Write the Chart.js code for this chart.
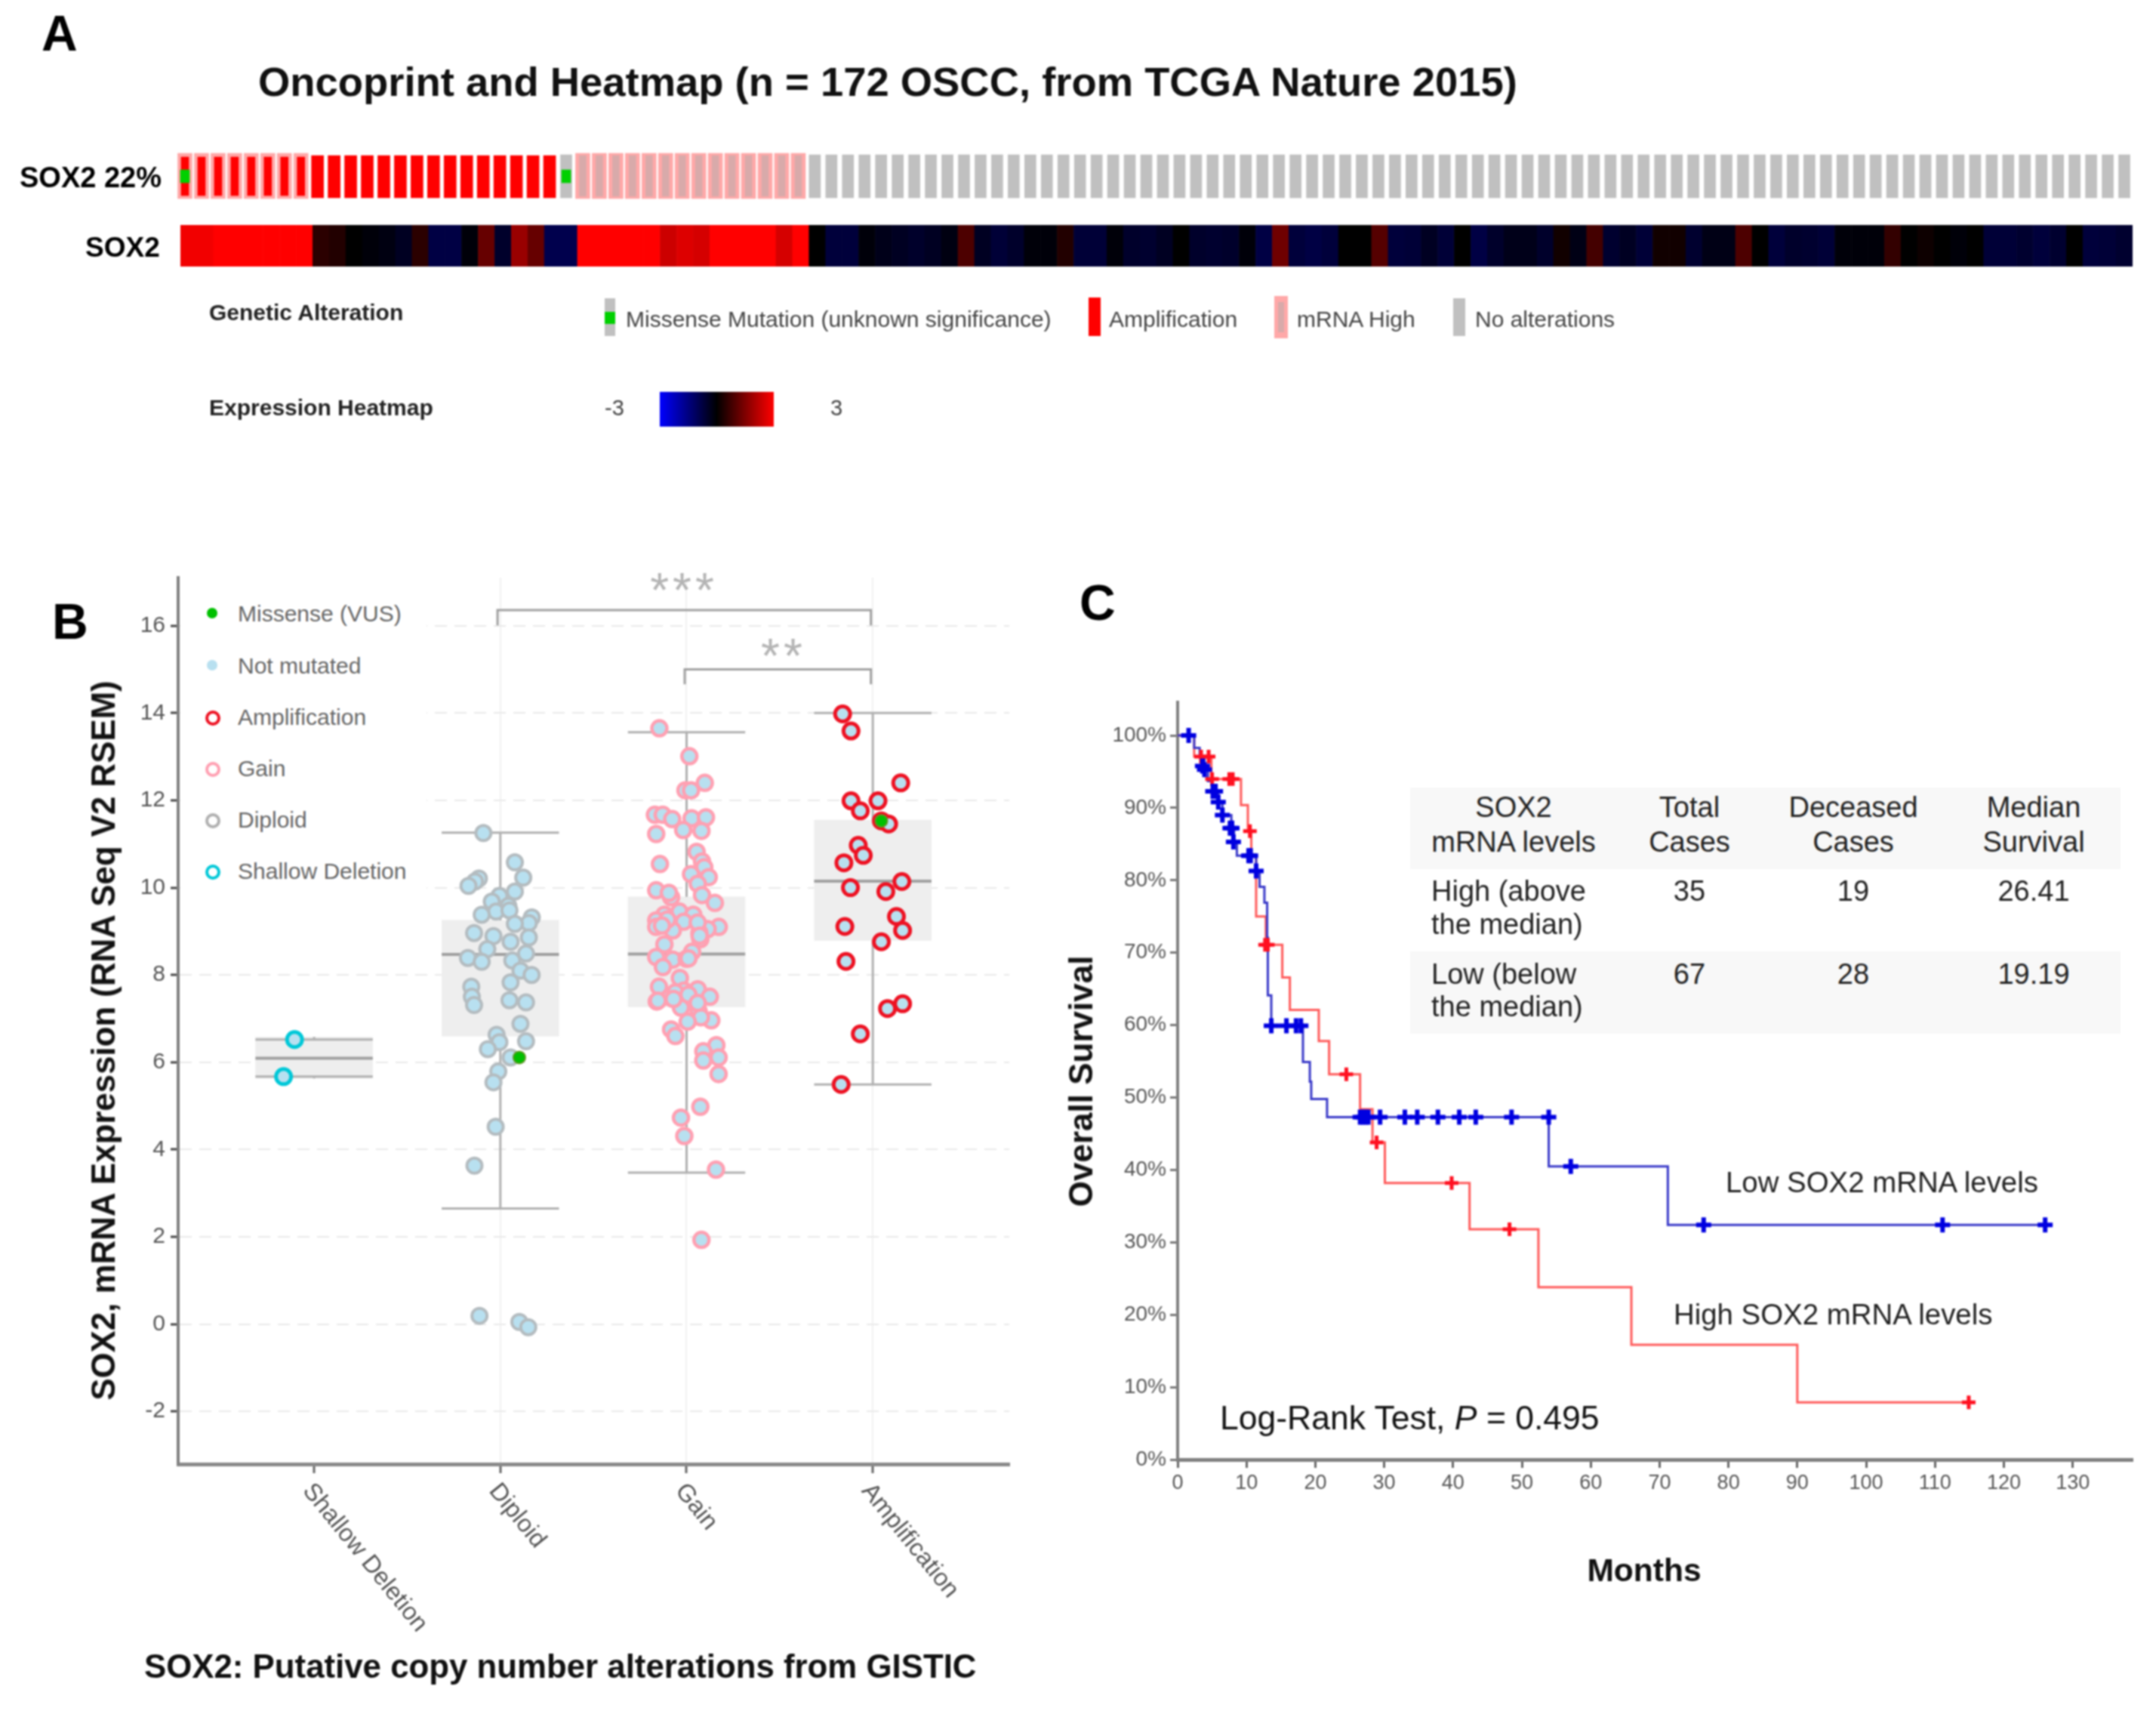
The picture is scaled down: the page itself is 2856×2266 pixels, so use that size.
<!DOCTYPE html>
<html>
<head>
<meta charset="utf-8">
<title>SOX2 oncoprint, expression and survival</title>
<script src="https://cdn.jsdelivr.net/npm/chart.js@4"></script>
<style>
  html, body { margin: 0; background: #fff; }
  #page { position: relative; width: 2856px; height: 2266px; overflow: hidden; font-family: "Liberation Sans", Arial, sans-serif; filter: blur(0.8px); }
  canvas { position: absolute; }
  .txt { position: absolute; white-space: pre; line-height: 1; }
  .box { position: absolute; }
</style>
</head>
<body>
<div id="page">
  <canvas id="onco" width="2591" height="66" style="left:234px;top:200px"></canvas>
  <canvas id="heat" width="2586" height="55" style="left:239px;top:298px"></canvas>
  <canvas id="expr" width="1400" height="1450" style="left:0;top:740px"></canvas>
  <canvas id="surv" width="1456" height="1130" style="left:1400px;top:900px"></canvas>
</div>
<script>
// ---- panel A: oncoprint, 118 columns
const amplifiedCases = [0,1,2,3,4,5,6,7,8,9,10,11,12,13,14,15,16,17,18,19,20,21,22];
const mrnaHighCases = [0,1,2,3,4,5,6,7,24,25,26,27,28,29,30,31,32,33,34,35,36,37];
const missenseCases = [0,23];
const heatmapValues = [
  2.85,2.85,3,3,3,3,3,3,0.5,0.4,0,-0.1,-0.2,-0.4,0.5,-0.8,-0.8,-0.1,1.2,-0.5,1.8,1.2,-0.9,-0.9,
  3,3,3,3,3,2.4,2.6,2.5,3,3,3,3,2.5,3,
  0,-0.7,-0.7,-0.1,-0.3,-0.4,-0.5,-0.4,-0.2,0.9,-0.4,-0.65,-0.5,-0.1,-0.1,0.4,-0.65,-0.65,-0.1,-0.5,
  -0.55,-0.4,0,-0.5,-0.55,-0.5,-0.1,-0.8,1.3,-0.7,-0.8,-0.7,0,0,1,-0.7,-0.65,-0.4,-0.65,0,
  -0.8,-0.5,-0.3,-0.3,-0.5,0.2,-0.25,0.8,-0.55,-0.4,-0.65,0.2,0.2,-0.55,-0.25,-0.25,0.9,0,-0.7,-0.5,
  -0.55,-0.65,-0.1,-0.1,-0.1,0.6,0,0.15,0,-0.1,0,-0.65,-0.65,-0.55,-0.7,-0.55,0,-0.7,-0.65,-0.55
];

// ---- panel B: expression by copy number
const copyNumberTypes = ["Shallow Deletion","Diploid","Gain","Amplification"];
const boxQ1 = [5.63,6.6,7.27,8.79];
const boxQ3 = [6.58,9.25,9.79,11.55];
const boxMedian = [6.09,8.47,8.48,10.15];
const whiskerLow = [5.67,2.65,3.47,5.49];
const whiskerHigh = [6.52,11.26,13.56,14.0];
const shallowX = [-0.105,-0.164];
const shallowY = [6.52,5.67];
const diploidX = [0.909,1.078,1.123,0.885,0.864,0.829,1.078,0.995,0.954,1.043,0.977,0.9,1.049,1.169,1.153,1.078,0.859,0.963,1.153,1.055,0.93,1.138,0.826,1.064,0.9,1.108,1.168,1.055,0.844,0.847,0.859,1.049,1.138,1.108,0.98,1.138,0.995,0.933,1.055,0.989,0.963,0.975,0.861,0.888,1.102,1.15];
const diploidY = [11.25,10.58,10.23,10.21,10.14,10.04,9.91,9.81,9.68,9.58,9.45,9.38,9.48,9.32,9.19,9.17,8.96,8.89,8.86,8.76,8.59,8.49,8.39,8.33,8.3,8.1,8.0,7.83,7.73,7.5,7.31,7.42,7.37,6.88,6.63,6.48,6.46,6.3,6.11,5.79,5.54,4.52,3.63,0.19,0.05,-0.07];
const gainX = [1.854,2.015,2.098,1.994,2.024,1.83,1.872,1.923,2.027,2.104,1.837,1.982,2.08,1.857,2.054,2.083,2.095,2.024,2.119,2.06,1.837,2.083,1.917,2.152,1.962,1.881,2.036,1.837,1.985,2.173,2.113,1.837,1.926,2.069,2.074,1.881,2.03,1.837,1.926,2.0,1.873,1.964,1.852,1.985,2.06,2.125,1.911,1.84,1.97,1.846,1.97,2.065,2.133,2.077,2.006,1.917,1.94,2.16,2.09,2.172,2.09,2.172,2.074,1.97,1.988,2.158,2.08,1.905,1.897,1.868,2.06,2.01,1.94,2.01,2.06,2.07,1.93];
const gainY = [13.65,13.01,12.4,12.23,12.23,11.67,11.67,11.57,11.59,11.61,11.23,11.32,11.3,10.54,10.82,10.6,10.47,10.31,10.24,10.09,9.94,9.83,9.78,9.65,9.45,9.38,9.38,9.25,9.22,9.1,9.05,9.1,9.02,8.96,8.82,8.7,8.53,8.41,8.35,8.37,8.18,7.93,7.73,7.64,7.67,7.5,7.49,7.39,7.27,7.41,7.25,7.16,6.96,7.03,6.93,6.75,6.6,6.39,6.25,6.11,6.04,5.73,4.98,4.73,4.31,3.54,1.93,9.88,9.27,9.13,9.2,8.38,7.6,7.55,7.36,8.9,7.45];
const amplifiedX = [2.838,2.883,3.15,2.883,3.028,2.933,3.046,3.085,2.922,2.949,2.845,3.156,2.88,3.07,3.127,2.85,3.16,3.046,2.856,3.16,3.079,2.933,2.83];
const amplifiedY = [13.98,13.59,12.4,11.99,11.99,11.76,11.53,11.46,10.97,10.74,10.57,10.14,10.0,9.91,9.34,9.11,9.02,8.76,8.31,7.34,7.23,6.65,5.49];
const missenseX = [1.102,3.046];
const missenseY = [6.11,11.53];
const bracketOuter = [{ x: 0.985, y: 16.01 }, { x: 0.985, y: 16.36 }, { x: 2.99, y: 16.36 }, { x: 2.99, y: 16.01 }];
const bracketInner = [{ x: 1.99, y: 14.66 }, { x: 1.99, y: 15.0 }, { x: 2.99, y: 15.0 }, { x: 2.99, y: 14.66 }];
const exprTicks = [-2,0,2,4,6,8,10,12,14,16];

// ---- panel C: Kaplan-Meier curves
const lowMonths = [0,1.6,2.4,3.2,3.9,4.4,5.1,5.9,6.5,7.8,8.2,8.6,11.4,11.9,12.6,13,13.1,13.6,18.2,19.2,19.4,21.7,53.9,71.2,126];
const lowSurvival = [100,100,98.3,97,95.3,93.7,92.3,90.8,89,87.2,85.3,83.4,81.3,79.1,76.9,72.1,64.1,59.9,54.9,52.2,49.8,47.3,40.5,32.4,32.4];
const lowCensorMonths = [1.6,3.6,3.9,5.1,5.5,5.9,6.5,7.6,7.9,8.1,10.3,10.6,11.4,13.6,15.8,17.2,17.9,26.5,26.9,27.3,27.7,29.4,33,34.8,37.8,40.9,43.3,48.5,53.9,57.1,76.4,111.1,126];
const lowCensorSurvival = [100,95.8,95.3,92.3,92.3,90.8,89,87.2,87.2,85.3,83.4,83.4,81.3,59.9,59.9,59.9,59.9,47.3,47.3,47.3,47.3,47.3,47.3,47.3,47.3,47.3,47.3,47.3,47.3,40.5,32.4,32.4,32.4];
const highMonths = [0,2.4,4.9,9.2,10.2,10.7,11.4,12.8,15.2,16.3,20.5,22,26.5,28.3,30.1,42.4,52.4,65.9,90,114.9];
const highSurvival = [100,97.1,94,90.4,86.8,83.5,75,71.1,66.6,62.1,57.8,53.2,48.4,43.8,38.2,31.8,23.8,15.85,7.9,7.9];
const highCensorMonths = [3.4,4.5,5,7.5,8,10.5,12.7,13.1,24.5,28.9,39.8,48.2,114.9];
const highCensorSurvival = [97.1,97.1,94,94,94,86.8,71.1,71.1,53.2,43.8,38.2,31.8,7.9];

// ---- table in panel C
const tableHeader = [["SOX2","mRNA levels"],["Total","Cases"],["Deceased","Cases"],["Median","Survival"]];
const tableRowNames = [["High (above","the median)"],["Low (below","the median)"]];
const tableTotals = ["35","67"];
const tableDeceased = ["19","28"];
const tableMedians = ["26.41","19.19"];

// ---- legends
const alterationLegend = ["Missense Mutation (unknown significance)","Amplification","mRNA High","No alterations"];
const mutationLegend = ["Missense (VUS)","Not mutated","Amplification","Gain","Diploid","Shallow Deletion"];

const page = document.getElementById("page");

Chart.defaults.font.family = '"Liberation Sans", Arial, sans-serif';
Chart.defaults.animation = false;
Chart.defaults.responsive = false;
Chart.defaults.devicePixelRatio = 1;
Chart.defaults.plugins.legend.display = false;
Chart.defaults.plugins.tooltip.enabled = false;

function txt(text, x, y, size, opts) {
  opts = opts || {};
  const el = document.createElement("div");
  el.className = "txt";
  el.textContent = text;
  el.style.fontSize = size + "px";
  el.style.left = x + "px";
  el.style.top = y + "px";
  el.style.color = opts.color || "#222";
  if (opts.bold) el.style.fontWeight = "bold";
  if (opts.spacing) el.style.letterSpacing = opts.spacing + "px";
  let t = "translateY(-50%)";
  if (opts.center) t = "translate(-50%,-50%)";
  if (opts.rotate) t = "translate(-50%,-50%) rotate(" + opts.rotate + "deg)";
  el.style.transform = t;
  page.appendChild(el);
  return el;
}

function box(x, y, w, h, css) {
  const el = document.createElement("div");
  el.className = "box";
  el.style.cssText = "left:" + x + "px;top:" + y + "px;width:" + w + "px;height:" + h + "px;" + css;
  page.appendChild(el);
  return el;
}

// ---------- panel A
const caseLabels = heatmapValues.map((_, i) => i);
const track = (list, lo, hi) => caseLabels.map(i => list.includes(i) ? [lo, hi] : null);
const mrnaOnly = mrnaHighCases.filter(i => !amplifiedCases.includes(i));
const ampOnly = amplifiedCases.filter(i => !mrnaHighCases.includes(i));
const ampAndMrna = amplifiedCases.filter(i => mrnaHighCases.includes(i));
const unaltered = caseLabels.filter(i => !amplifiedCases.includes(i) && !mrnaHighCases.includes(i));

new Chart(document.getElementById("onco"), {
  type: "bar",
  data: {
    labels: caseLabels,
    datasets: [
      { data: track(missenseCases, 25, 42), backgroundColor: "#00d000", barThickness: 12, order: 1 },
      { data: track(ampAndMrna, 8, 59), backgroundColor: "#ff0000", barThickness: 10, order: 2 },
      { data: track(ampOnly, 6, 62), backgroundColor: "#ff0000", barThickness: 16, order: 3 },
      { data: track(mrnaOnly, 6, 60), backgroundColor: "#d8aaaa", barThickness: 9, order: 4 },
      { data: track(mrnaHighCases, 3, 63), backgroundColor: "#ffa8a8", barThickness: 19, order: 5 },
      { data: track(unaltered, 5, 62), backgroundColor: "#c0c0c0", barThickness: 15, order: 6 }
    ]
  },
  options: {
    datasets: { bar: { grouped: false } },
    layout: { padding: 0 },
    scales: {
      x: { display: false },
      y: { display: false, min: 0, max: 66, reverse: true }
    }
  }
});

function heatColor(v) {
  const c = Math.round(Math.min(Math.abs(v) / 3, 1) * 255);
  return v >= 0 ? "rgb(" + c + ",0,0)" : "rgb(0,0," + c + ")";
}

new Chart(document.getElementById("heat"), {
  type: "bar",
  data: {
    labels: caseLabels,
    datasets: [{
      data: heatmapValues.map(() => 1),
      backgroundColor: heatmapValues.map(heatColor),
      barPercentage: 1,
      categoryPercentage: 1
    }]
  },
  options: {
    layout: { padding: 0 },
    scales: { x: { display: false }, y: { display: false, min: 0, max: 1 } }
  }
});

txt("A", 55, 44, 66, { bold: true, color: "#000" });
txt("Oncoprint and Heatmap (n = 172 OSCC, from TCGA Nature 2015)", 342, 109, 54.4, { bold: true, color: "#111" });
txt("SOX2 22%", 26, 235, 38, { bold: true, color: "#000" });
txt("SOX2", 113, 327, 37, { bold: true, color: "#000" });
txt("Genetic Alteration", 277, 414, 30, { bold: true });
txt("Expression Heatmap", 277, 540, 30, { bold: true });

box(801, 395, 14, 50, "background:#c0c0c0");
box(801, 413, 14, 16, "background:#00d000");
txt(alterationLegend[0], 829, 423, 30, { color: "#444" });
box(1442, 394, 16, 51, "background:#ff0000");
txt(alterationLegend[1], 1469, 423, 30, { color: "#444" });
box(1688, 392, 18, 56, "background:#ffa8a8");
box(1693, 400, 8, 40, "background:#d8aaaa");
txt(alterationLegend[2], 1718, 423, 30, { color: "#444" });
box(1925, 395, 16, 50, "background:#c0c0c0");
txt(alterationLegend[3], 1954, 423, 30, { color: "#444" });

txt("-3", 801, 540, 29, { color: "#444" });
box(874, 519, 151, 46, "background:linear-gradient(90deg,#0000ff,#000000 50%,#ff0000)");
txt("3", 1100, 540, 29, { color: "#444" });

// ---------- panel B
const CAP = 0.315; // half width of a box in category units
const gap = { x: null, y: null };
const whiskerPath = copyNumberTypes.flatMap((_, i) => [
  { x: i - CAP, y: whiskerLow[i] }, { x: i + CAP, y: whiskerLow[i] }, { x: i, y: whiskerLow[i] }, { x: i, y: boxQ1[i] }, gap,
  { x: i, y: boxQ3[i] }, { x: i, y: whiskerHigh[i] }, { x: i - CAP, y: whiskerHigh[i] }, { x: i + CAP, y: whiskerHigh[i] }, gap
]);
const medianPath = copyNumberTypes.flatMap((_, i) => [{ x: i - CAP, y: boxMedian[i] }, { x: i + CAP, y: boxMedian[i] }, gap]);
const zipPts = (xs, ys) => xs.map((x, i) => ({ x, y: ys[i] }));

const pts = (xs, ys, border, order, bw) => ({
  type: "scatter", data: zipPts(xs, ys), order,
  backgroundColor: "#b8e0f0", borderColor: border,
  pointRadius: 10, borderWidth: bw
});

const rotatedTicks = {
  id: "rotatedTicks",
  afterDraw(chart) {
    const c = chart.ctx, sx = chart.scales.x;
    c.save();
    c.font = "32.5px " + Chart.defaults.font.family;
    c.fillStyle = "#555";
    c.textBaseline = "middle";
    copyNumberTypes.forEach((name, i) => {
      c.save();
      c.translate(sx.getPixelForValue(i) - 9, chart.chartArea.bottom + 30);
      c.rotate(51 * Math.PI / 180);
      c.fillText(name, 0, 0);
      c.restore();
    });
    c.restore();
  }
};

new Chart(document.getElementById("expr"), {
  type: "bar",
  data: {
    datasets: [
      { data: copyNumberTypes.map((_, i) => ({ x: i, y: [boxQ1[i], boxQ3[i]] })), backgroundColor: "#eeeeee", barThickness: 155, grouped: false, order: 10 },
      { type: "scatter", showLine: true, data: whiskerPath, borderColor: "#b0b0b0", borderWidth: 3, pointRadius: 0, order: 9 },
      { type: "scatter", showLine: true, data: medianPath, borderColor: "#a0a0a0", borderWidth: 4, pointRadius: 0, order: 8 },
      { type: "scatter", showLine: true, data: bracketOuter, borderColor: "#a0a0a0", borderWidth: 3, pointRadius: 0, order: 7 },
      { type: "scatter", showLine: true, data: bracketInner, borderColor: "#a0a0a0", borderWidth: 3, pointRadius: 0, order: 7 },
      pts(shallowX, shallowY, "#00c8d8", 6, 5),
      pts(diploidX, diploidY, "#b4bcc0", 5, 4),
      pts(gainX, gainY, "#ffa0b2", 4, 4.5),
      pts(amplifiedX, amplifiedY, "#ee1122", 3, 5),
      { type: "scatter", data: zipPts(missenseX, missenseY), backgroundColor: "#00c000", borderColor: "#5a9a20", pointRadius: 8, borderWidth: 2, order: 2 }
    ]
  },
  plugins: [rotatedTicks],
  options: {
    layout: { padding: { top: 21, right: 63, left: 0, bottom: 0 } },
    scales: {
      x: {
        type: "linear", offset: false, min: -0.73, max: 3.733,
        grid: { offset: false, color: c => c.tick && c.tick.value === 0 ? "rgba(0,0,0,0)" : "#f1f1f1", lineWidth: 2, tickColor: "#666", tickWidth: 3, tickLength: 12 },
        border: { color: "#8a8a8a", width: 5 },
        ticks: { display: false, stepSize: 1, includeBounds: false },
        afterFit: s => { s.height = 251; }
      },
      y: {
        type: "linear", beginAtZero: false, min: -3.207, max: 17.103,
        grid: { color: "#e9e9e9", lineWidth: 2, tickColor: "#444", tickWidth: 3, tickLength: 10 },
        border: { color: "#808080", width: 4, dash: [16, 10] },
        ticks: {
          stepSize: 2, includeBounds: false, padding: 7, color: "#555", font: { size: 30 },
          callback: v => exprTicks.includes(v) ? String(v) : ""
        },
        afterFit: s => { s.width = 236; }
      }
    }
  }
});

// white legend sits on top of the grid, as in the original
box(239, 790, 326, 450, "background:#fff");
const legendY = [813, 882, 950, 1018, 1086, 1154];
const legendRing = [null, null, "#ee1122", "#ffa0b2", "#b0b0b0", "#00c8d8"];
const legendFill = ["#00c000", "#b8e0f0"];
mutationLegend.forEach((name, i) => {
  if (legendRing[i]) box(272, legendY[i] - 9, 12, 12, "box-sizing:content-box;border:4px solid " + legendRing[i] + ";border-radius:50%");
  else box(274, legendY[i] - 8, 14, 14, "background:" + legendFill[i] + ";border-radius:50%");
  txt(name, 315, legendY[i], 30, { color: "#666" });
});

txt("***", 906, 782, 64, { center: true, color: "#b4b4b4", spacing: 5 });
txt("**", 1038, 869, 64, { center: true, color: "#b4b4b4", spacing: 5 });
txt("B", 69, 823, 66, { bold: true, color: "#000" });
txt("SOX2, mRNA Expression (RNA Seq V2 RSEM)", 137, 1378, 43.8, { bold: true, rotate: -90, color: "#111" });
txt("SOX2: Putative copy number alterations from GISTIC", 191, 2207, 43.8, { bold: true, color: "#111" });

// ---------- panel C
new Chart(document.getElementById("surv"), {
  type: "scatter",
  data: {
    datasets: [
      { data: zipPts(lowCensorMonths, lowCensorSurvival), pointStyle: "cross", pointRadius: 10, borderWidth: 6, borderColor: "#0000e0", order: 1 },
      { data: zipPts(highCensorMonths, highCensorSurvival), pointStyle: "cross", pointRadius: 9, borderWidth: 5, borderColor: "#ff1020", order: 2 },
      { data: zipPts(lowMonths, lowSurvival), showLine: true, stepped: true, borderColor: "#3838c8", borderWidth: 3, pointRadius: 0, order: 3 },
      { data: zipPts(highMonths, highSurvival), showLine: true, stepped: true, borderColor: "#ff5a5a", borderWidth: 3, pointRadius: 0, order: 4 }
    ]
  },
  options: {
    layout: { padding: { top: 30, right: 31, left: 0, bottom: 0 } },
    scales: {
      x: {
        type: "linear", min: 0, max: 138.7,
        grid: { drawOnChartArea: false, tickColor: "#666", tickWidth: 3, tickLength: 11 },
        border: { color: "#808080", width: 5 },
        ticks: { stepSize: 10, includeBounds: false, maxRotation: 0, padding: 4, color: "#555", font: { size: 27 } },
        afterFit: s => { s.height = 97; }
      },
      y: {
        type: "linear", min: 0, max: 104.6,
        grid: { drawOnChartArea: false, tickColor: "#777", tickWidth: 3, tickLength: 10 },
        border: { color: "#808080", width: 4 },
        ticks: { stepSize: 10, includeBounds: false, padding: 5, color: "#555", font: { size: 28 }, callback: v => v + "%" },
        afterFit: s => { s.width = 160; }
      }
    }
  }
});

txt("C", 1430, 798, 66, { bold: true, color: "#000" });
txt("Overall Survival", 1432, 1432, 44, { bold: true, rotate: -90, color: "#111" });
txt("Months", 2178, 2080, 42.5, { bold: true, center: true, color: "#111" });
txt("Low SOX2 mRNA levels", 2286, 1566, 38.4);
txt("High SOX2 mRNA levels", 2217, 1741, 38.4);
const logRank = txt("Log-Rank Test, ", 1616, 1878, 44.5, { color: "#111" });
logRank.innerHTML = "Log-Rank Test, <i>P</i> = 0.495";

// table
box(1868, 1043, 941, 108, "background:#f8f8f8");
box(1868, 1260, 941, 109, "background:#f8f8f8");
const colX = [2005, 2238, 2455, 2694];
const headY = [1069, 1115];
tableHeader.forEach((lines, c) => lines.forEach((l, k) => txt(l, colX[c], headY[k], 38, { center: true })));
const rowY = [[1180, 1224], [1290, 1333]];
tableRowNames.forEach((lines, r) => {
  lines.forEach((l, k) => txt(l, 1896, rowY[r][k], 38));
  txt(tableTotals[r], colX[1], rowY[r][0], 38, { center: true });
  txt(tableDeceased[r], colX[2], rowY[r][0], 38, { center: true });
  txt(tableMedians[r], colX[3], rowY[r][0], 38, { center: true });
});
</script>
</body>
</html>
